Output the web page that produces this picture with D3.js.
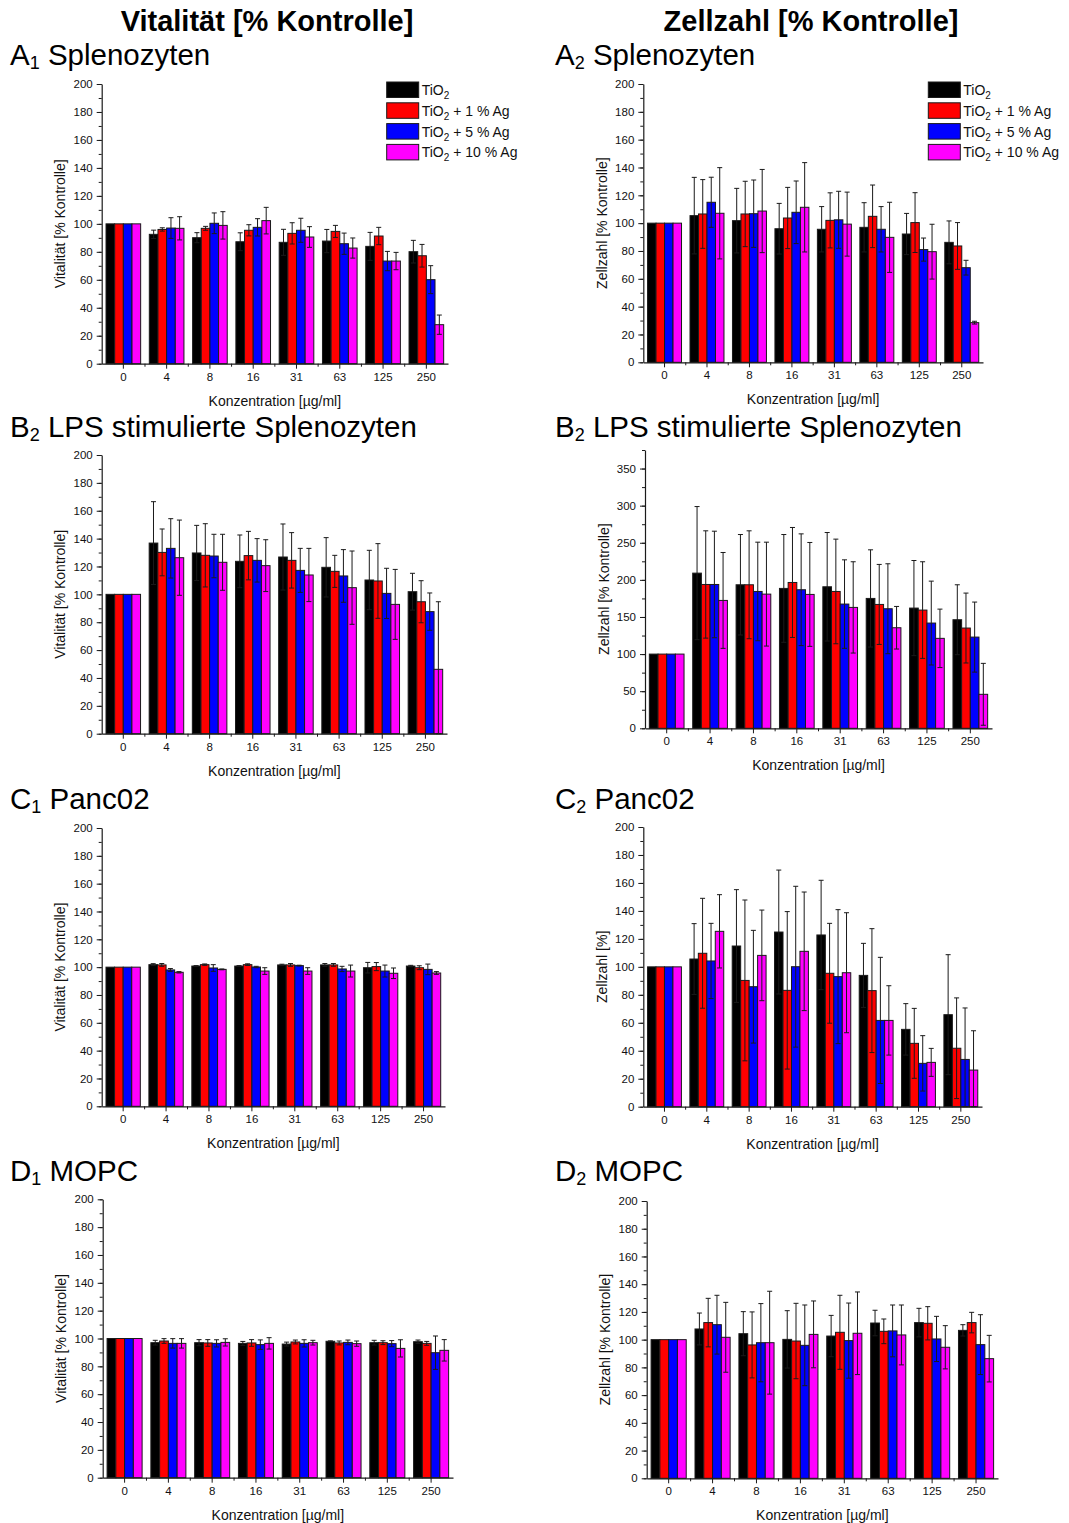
<!DOCTYPE html>
<html>
<head>
<meta charset="utf-8">
<script src="https://cdnjs.cloudflare.com/ajax/libs/d3/7.8.5/d3.min.js"></script>
<style>
  html, body { margin: 0; padding: 0; background: #fff; }
  svg { display: block; font-family: "Liberation Sans", Arial, Helvetica, sans-serif; }
</style>
</head>
<body>
<svg id="fig" width="1069" height="1523"></svg>
<script>
// Concentrations (µg/ml) on the x axis
const categories = ["0", "4", "8", "16", "31", "63", "125", "250"];

// Particle types (series)
const seriesLabels = ["TiO₂", "TiO₂ + 1 % Ag", "TiO₂ + 5 % Ag", "TiO₂ + 10 % Ag"];
const seriesColors = ["#000000", "#ff0000", "#0000ff", "#ff00ff"];

// A1 – Splenozyten, Vitalität (mean / SD per series)
const vitSplenoMean = [
  [100, 92.5, 90.1, 87.2, 86.8, 87.7, 83.9, 80.1],
  [100, 96.0, 96.8, 95.4, 93.2, 94.6, 91.3, 77.2],
  [100, 97.0, 100.4, 97.5, 95.4, 85.8, 73.4, 60.1],
  [100, 96.8, 98.9, 102.3, 90.6, 82.7, 73.4, 27.9]
];
const vitSplenoErr = [
  [0, 3.0, 3.6, 6.4, 9.3, 8.3, 10.0, 8.1],
  [0, 1.2, 1.4, 4.0, 7.6, 4.3, 6.2, 8.1],
  [0, 7.4, 7.4, 6.2, 8.6, 7.6, 6.9, 10.0],
  [0, 8.3, 9.8, 9.5, 7.4, 7.2, 6.2, 6.9]
];

// A2 – Splenozyten, Zellzahl
const cntSplenoMean = [
  [100, 105.4, 101.8, 96.0, 95.6, 97.0, 92.2, 86.2],
  [100, 106.6, 106.6, 103.7, 102.0, 104.9, 100.4, 83.6],
  [100, 115.0, 106.8, 107.8, 102.4, 95.6, 81.0, 68.0],
  [100, 107.1, 108.7, 111.4, 99.3, 89.8, 79.5, 28.5]
];
const cntSplenoErr = [
  [0, 27.5, 23.2, 18.2, 16.3, 17.7, 14.8, 15.4],
  [0, 24.7, 23.5, 22.0, 19.8, 22.5, 21.5, 16.8],
  [0, 18.0, 24.2, 22.5, 20.5, 16.3, 8.3, 5.3],
  [0, 32.8, 29.9, 32.1, 23.0, 25.2, 19.7, 1.0]
];

// B1 – LPS stimulierte Splenozyten, Vitalität
const vitLpsMean = [
  [100, 136.8, 129.7, 123.7, 126.8, 119.4, 110.3, 101.9],
  [100, 130.1, 128.0, 127.8, 124.4, 116.5, 109.6, 94.7],
  [100, 133.0, 127.5, 124.4, 117.2, 113.2, 100.7, 87.6],
  [100, 126.3, 123.0, 120.6, 113.9, 104.8, 92.8, 46.2]
];
const vitLpsErr = [
  [0, 29.7, 19.8, 18.9, 23.7, 21.3, 21.3, 13.2],
  [0, 16.8, 22.7, 17.4, 19.9, 11.5, 26.8, 15.1],
  [0, 21.3, 15.6, 15.6, 15.8, 18.9, 18.0, 13.4],
  [0, 27.0, 20.1, 18.6, 19.1, 26.3, 25.1, 48.5]
];

// B2 – LPS stimulierte Splenozyten, Zellzahl
const cntLpsMean = [
  [100, 209.1, 193.4, 188.5, 190.7, 175.0, 162.0, 146.3],
  [100, 193.8, 193.4, 196.5, 184.4, 166.9, 159.3, 135.1],
  [100, 193.8, 184.4, 186.7, 167.4, 161.1, 141.8, 122.9],
  [100, 172.3, 180.8, 180.4, 162.9, 135.5, 121.2, 45.8]
];
const cntLpsErr = [
  [0, 89.7, 67.7, 72.6, 73.1, 65.5, 64.1, 47.1],
  [0, 72.3, 72.7, 74.1, 70.5, 53.9, 65.1, 47.1],
  [0, 71.8, 66.4, 75.3, 59.6, 60.6, 56.5, 47.2],
  [0, 64.6, 70.0, 70.0, 61.5, 28.7, 39.4, 41.7]
];

// C1 – Panc02, Vitalität
const vitPancMean = [
  [100, 101.8, 100.8, 100.8, 101.6, 101.6, 99.6, 100.8],
  [100, 101.6, 101.8, 101.8, 101.6, 101.6, 100.4, 99.6],
  [100, 98.0, 99.4, 100.1, 101.1, 98.7, 97.2, 98.4],
  [100, 96.3, 98.4, 97.2, 97.2, 97.2, 95.6, 95.8]
];
const vitPancErr = [
  [0, 0.7, 0.3, 0.3, 0.5, 1.0, 3.8, 0.5],
  [0, 1.0, 0.5, 0.6, 1.0, 1.0, 2.9, 1.4],
  [0, 1.0, 2.4, 0.5, 0.3, 1.9, 4.3, 3.8],
  [0, 0.5, 0.3, 2.4, 2.4, 4.3, 3.8, 1.0]
];

// C2 – Panc02, Zellzahl
const cntPancMean = [
  [100, 105.6, 114.9, 124.9, 122.8, 93.9, 55.3, 65.8],
  [100, 109.7, 90.3, 83.2, 95.4, 83.0, 45.3, 41.8],
  [100, 104.2, 85.8, 100.1, 93.0, 61.7, 31.0, 33.8],
  [100, 125.4, 108.2, 111.1, 95.8, 61.7, 31.7, 26.2]
];
const cntPancErr = [
  [0, 25.3, 40.3, 44.3, 39.1, 22.9, 18.4, 42.9],
  [0, 39.3, 57.5, 56.3, 35.7, 44.3, 25.0, 36.0],
  [0, 26.9, 40.3, 57.5, 47.9, 45.1, 19.8, 36.8],
  [0, 26.2, 32.4, 42.4, 42.9, 24.8, 10.0, 28.1]
];

// D1 – MOPC, Vitalität
const vitMopcMean = [
  [100, 97.0, 97.0, 96.5, 96.0, 98.0, 97.0, 97.7],
  [100, 98.2, 96.8, 96.8, 97.5, 96.8, 97.0, 96.5],
  [100, 96.5, 96.5, 95.6, 96.5, 97.2, 96.3, 89.8],
  [100, 96.5, 97.2, 96.5, 97.0, 96.3, 92.9, 91.5]
];
const vitMopcErr = [
  [0, 1.7, 2.2, 1.4, 1.4, 0.3, 1.7, 1.2],
  [0, 1.7, 2.4, 2.4, 1.4, 1.4, 1.4, 1.4],
  [0, 3.4, 2.6, 3.4, 2.6, 1.7, 2.2, 12.0],
  [0, 3.4, 2.6, 4.1, 1.7, 1.9, 6.2, 7.7]
];

// D2 – MOPC, Zellzahl
const cntMopcMean = [
  [100, 107.7, 104.3, 100.2, 102.6, 112.0, 112.3, 106.7],
  [100, 112.3, 96.2, 99.0, 105.3, 106.0, 111.8, 112.3],
  [100, 110.8, 97.8, 95.9, 99.3, 106.3, 100.5, 96.4],
  [100, 101.7, 97.8, 103.8, 104.6, 103.4, 94.5, 86.3]
];
const cntMopcErr = [
  [0, 11.5, 15.9, 20.7, 14.9, 9.2, 10.3, 4.1],
  [0, 17.5, 23.8, 27.2, 26.7, 8.9, 12.0, 7.4],
  [0, 21.2, 28.2, 29.1, 27.1, 18.7, 16.3, 21.6],
  [0, 25.2, 37.1, 24.1, 29.8, 21.6, 15.6, 16.8]
];

// Column headers
const columnHeaders = [
  { text: "Vitalität [% Kontrolle]", x: 267 },
  { text: "Zellzahl [% Kontrolle]", x: 811 }
];

// Panel layout (pixel frame of each plot area) and its data
const panels = [
  { title: "A₁ Splenozyten", tx: 10, ty: 65, left: 101.7, right: 448, top: 84, bottom: 363.7,
    yMax: 200, major: 20, minor: 10, ylabel: "Vitalität [% Kontrolle]", mean: vitSplenoMean, err: vitSplenoErr, legend: true },
  { title: "A₂ Splenozyten", tx: 555, ty: 65, left: 643.3, right: 983, top: 84, bottom: 362.3,
    yMax: 200, major: 20, minor: 10, ylabel: "Zellzahl [% Kontrolle]", mean: cntSplenoMean, err: cntSplenoErr, legend: true },
  { title: "B₂ LPS stimulierte Splenozyten", tx: 10, ty: 437, left: 101.7, right: 447, top: 455, bottom: 733.7,
    yMax: 200, major: 20, minor: 10, ylabel: "Vitalität [% Kontrolle]", mean: vitLpsMean, err: vitLpsErr },
  { title: "B₂ LPS stimulierte Splenozyten", tx: 555, ty: 437, left: 645, right: 992, top: 450, bottom: 728.3,
    yMax: 375, major: 50, minor: 25, ylabel: "Zellzahl [% Kontrolle]", mean: cntLpsMean, err: cntLpsErr },
  { title: "C₁ Panc02", tx: 10, ty: 809, left: 101.7, right: 445, top: 828, bottom: 1106.3,
    yMax: 200, major: 20, minor: 10, ylabel: "Vitalität [% Kontrolle]", mean: vitPancMean, err: vitPancErr },
  { title: "C₂ Panc02", tx: 555, ty: 809, left: 643.3, right: 982, top: 827, bottom: 1106.7,
    yMax: 200, major: 20, minor: 10, ylabel: "Zellzahl [%]", mean: cntPancMean, err: cntPancErr },
  { title: "D₁ MOPC", tx: 10, ty: 1181, left: 102.7, right: 453, top: 1199.3, bottom: 1477.7,
    yMax: 200, major: 20, minor: 10, ylabel: "Vitalität [% Kontrolle]", mean: vitMopcMean, err: vitMopcErr },
  { title: "D₂ MOPC", tx: 555, ty: 1181, left: 646.7, right: 998, top: 1201, bottom: 1478.3,
    yMax: 200, major: 20, minor: 10, ylabel: "Zellzahl [% Kontrolle]", mean: cntMopcMean, err: cntMopcErr }
];

const svg = d3.select("#fig");
const INK = "#1a1a1a";

// Writes a label into a <text>, turning ₁ / ₂ into real subscripts;
// the text after a subscript is shifted back onto the baseline.
function richText(sel, str, subSize, subShift) {
  const parts = str.split(/([₀-₉])/).filter(s => s.length);
  let pending = 0;
  parts.forEach(p => {
    if (/^[₀-₉]$/.test(p)) {
      const digit = String.fromCharCode(p.charCodeAt(0) - 0x2080 + 48);
      sel.append("tspan").attr("font-size", subSize).attr("dy", subShift - pending).text(digit);
      pending = subShift;
    } else {
      const ts = sel.append("tspan").text(p);
      if (pending) ts.attr("dy", -pending);
      pending = 0;
    }
  });
}

// Column headers
svg.selectAll("text.header").data(columnHeaders).join("text")
  .attr("class", "header")
  .attr("x", d => d.x).attr("y", 31)
  .attr("text-anchor", "middle")
  .attr("font-size", 29).attr("font-weight", "bold").attr("fill", "#000")
  .text(d => d.text);

panels.forEach(p => {
  const g = svg.append("g");

  // Panel title
  const t = g.append("text").attr("x", p.tx).attr("y", p.ty)
    .attr("font-size", 29.5).attr("fill", "#000");
  richText(t, p.title, 18, 4);

  const x = d3.scaleBand().domain(categories).range([p.left, p.right])
    .paddingInner(0.2).paddingOuter(0.1);
  const xs = d3.scaleBand().domain(d3.range(seriesLabels.length)).range([0, x.bandwidth()]);
  const y = d3.scaleLinear().domain([0, p.yMax]).range([p.bottom, p.top]);

  // Bars
  p.mean.forEach((vals, s) => {
    g.append("g").selectAll("rect").data(vals).join("rect")
      .attr("x", (d, i) => x(categories[i]) + xs(s))
      .attr("y", d => y(d))
      .attr("width", xs.bandwidth())
      .attr("height", d => y(0) - y(d))
      .attr("fill", seriesColors[s])
      .attr("stroke", INK).attr("stroke-width", 1);
  });

  // Error bars (mean ± SD)
  p.mean.forEach((vals, s) => {
    const eg = g.append("g").attr("stroke", INK).attr("stroke-width", 1).attr("fill", "none");
    vals.forEach((v, i) => {
      const e = p.err[s][i];
      if (!e) return;
      const cx = x(categories[i]) + xs(s) + xs.bandwidth() / 2;
      const y1 = y(v + e), y2 = y(Math.max(0, v - e));
      eg.append("line").attr("x1", cx).attr("x2", cx).attr("y1", y1).attr("y2", y2);
      eg.append("line").attr("x1", cx - 2.5).attr("x2", cx + 2.5).attr("y1", y1).attr("y2", y1);
      eg.append("line").attr("x1", cx - 2.5).attr("x2", cx + 2.5).attr("y1", y2).attr("y2", y2);
    });
  });

  // Y axis: minor ticks, then labelled major ticks
  const yMinor = d3.axisLeft(y).tickValues(d3.range(0, p.yMax + 0.01, p.minor)).tickSize(3).tickFormat("");
  g.append("g").attr("transform", `translate(${p.left},0)`).call(yMinor)
    .call(a => a.select(".domain").remove())
    .call(a => a.selectAll("text").remove())
    .selectAll("line").attr("stroke", INK);
  const yMajor = d3.axisLeft(y).tickValues(d3.range(0, p.yMax + 0.01, p.major)).tickSize(5).tickPadding(4).tickSizeOuter(0);
  const ya = g.append("g").attr("transform", `translate(${p.left},0)`).call(yMajor);
  ya.select(".domain").attr("stroke", INK).attr("stroke-width", 1.2);
  ya.selectAll(".tick line").attr("stroke", INK);
  ya.selectAll(".tick text").attr("font-size", 11.5).attr("fill", "#111")
    .attr("font-family", "Liberation Sans, Arial, sans-serif");

  // X axis: labelled ticks at group centres, short ticks between groups
  const xa = g.append("g").attr("transform", `translate(0,${p.bottom})`)
    .call(d3.axisBottom(x).tickSize(5).tickPadding(4).tickSizeOuter(0));
  xa.select(".domain").attr("stroke", INK).attr("stroke-width", 1.2);
  xa.selectAll(".tick line").attr("stroke", INK);
  xa.selectAll(".tick text").attr("font-size", 11.5).attr("fill", "#111")
    .attr("font-family", "Liberation Sans, Arial, sans-serif");
  const bounds = categories.slice(1).map(c => x(c) - x.step() * x.paddingInner() / 2);
  xa.selectAll("line.minor").data(bounds).join("line").attr("class", "minor")
    .attr("x1", d => d).attr("x2", d => d).attr("y1", 0).attr("y2", 3)
    .attr("stroke", INK);

  // Axis titles
  g.append("text")
    .attr("transform", `translate(${p.left - 40},${(p.top + p.bottom) / 2}) rotate(-90)`)
    .attr("text-anchor", "middle").attr("dominant-baseline", "middle")
    .attr("font-size", 14).attr("fill", "#111").text(p.ylabel);
  g.append("text")
    .attr("x", (p.left + p.right) / 2).attr("y", p.bottom + 42)
    .attr("text-anchor", "middle").attr("font-size", 14).attr("fill", "#111")
    .text("Konzentration [µg/ml]");

  // Legend
  if (p.legend) {
    const lg = g.append("g").attr("transform", `translate(${p.left + 285},${82})`);
    seriesLabels.forEach((lab, s) => {
      const row = lg.append("g").attr("transform", `translate(0,${s * 20.8})`);
      row.append("rect").attr("width", 32).attr("height", 15.5)
        .attr("fill", seriesColors[s]).attr("stroke", INK).attr("stroke-width", 1);
      const tx = row.append("text").attr("x", 35).attr("y", 13)
        .attr("font-size", 14).attr("fill", "#111");
      richText(tx, lab, 10, 4);
    });
  }
});
</script>
</body>
</html>
